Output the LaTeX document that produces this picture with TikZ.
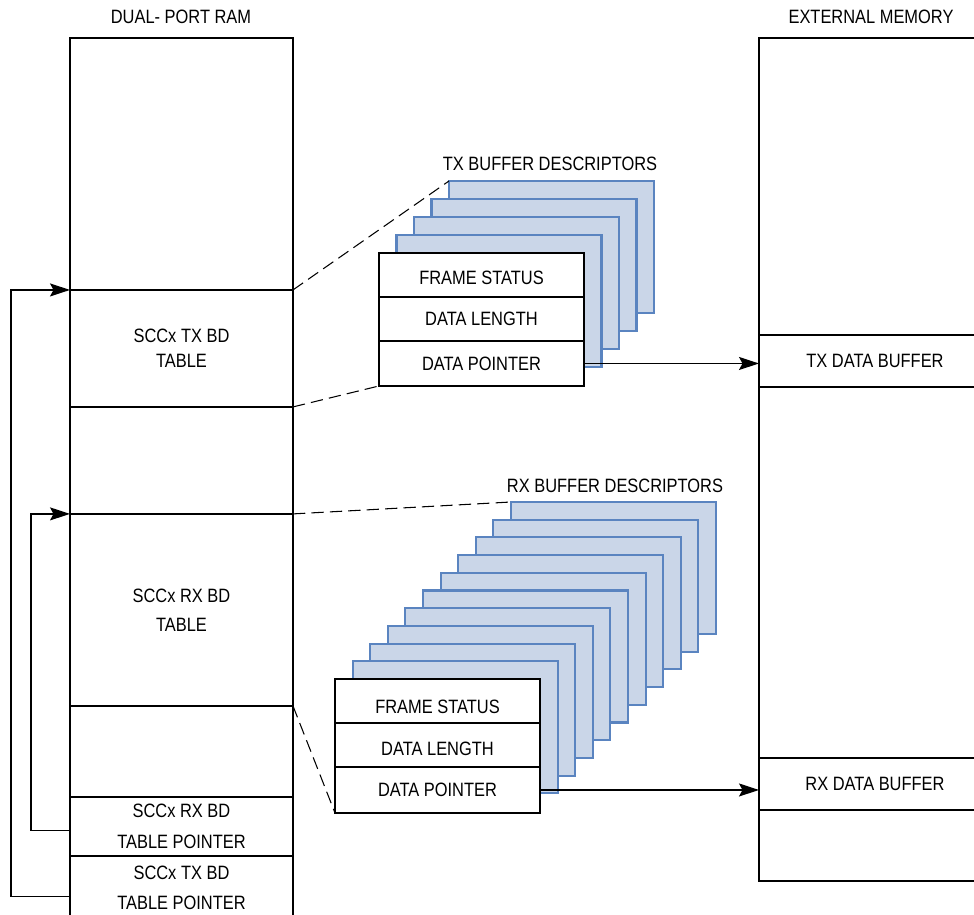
\documentclass[tikz,border=0pt]{standalone}
\usepackage{fontspec}
\setmainfont{Liberation Sans}[FakeStretch=0.85]
\usepackage{tikz}
\usetikzlibrary{arrows.meta,positioning}
\definecolor{bdfill}{HTML}{CAD6E8}
\definecolor{bdedge}{HTML}{5A84C0}
\tikzset{%
  ramcell/.style={draw,line width=1pt,inner sep=0pt,outer sep=0pt,align=center,minimum width=4.46cm},
  extcell/.style={draw,line width=1pt,inner sep=0pt,outer sep=0pt,align=center,minimum width=4.64cm},
  link/.style={-{Stealth[length=4mm,width=2.6mm,inset=0.7mm]}, line width=0.7pt}%
}

\begin{document}
\begin{tikzpicture}[
    x=0.02cm, y=-0.02cm,
    font=\fontsize{11}{14.5}\selectfont,
    bdrow/.style={
        draw,
        line width=1pt,
        fill=white,
        inner sep=0pt,
        outer sep=0pt,
        minimum width=4.1cm,
        minimum height=0.88cm
    },
    bdcard/.style={
        draw=bdedge,
        fill=bdfill,
        line width=1.2pt,
        inner sep=0pt,
        outer sep=0pt,
        minimum width=4.1cm,
        minimum height=2.64cm,
        anchor=north west
    },
    dashline/.style={line width=0.6pt, dash pattern=on 7pt off 3.5pt}
]
\useasboundingbox (0,0) rectangle (974,915);

% Titles
\node (ramlabel) at (181,17) {DUAL- PORT RAM};
\node (extlabel) at (871,17) {EXTERNAL MEMORY};

% Dual-port RAM map
\node[ramcell, minimum height=5.04cm, anchor=north west] (ram0) at (70,38) {};
\node[ramcell, minimum height=2.34cm, below=0pt of ram0] (txtbl) {SCCx TX BD\\TABLE};
\node[ramcell, minimum height=2.14cm, below=0pt of txtbl] (ram2) {};
\node[ramcell, minimum height=3.84cm, below=0pt of ram2] (rxtbl) {SCCx RX BD\\[2pt]TABLE};
\node[ramcell, minimum height=1.82cm, below=0pt of rxtbl] (ram4) {};
\node[ramcell, minimum height=1.18cm, below=0pt of ram4] (rxptr) {SCCx RX BD\\[3pt]TABLE POINTER};
\node[ramcell, minimum height=1.28cm, below=0pt of rxptr] (txptr) {SCCx TX BD\\[3pt]TABLE POINTER};

% External memory map
\node[extcell, minimum height=5.94cm, anchor=north west] (ext0) at (759,38) {};
\node[extcell, minimum height=1.04cm, below=0pt of ext0] (txbuf) {TX DATA BUFFER};
\node[extcell, minimum height=7.42cm, below=0pt of txbuf] (ext2) {};
\node[extcell, minimum height=1.04cm, below=0pt of ext2] (rxbuf) {RX DATA BUFFER};
\node[extcell, minimum height=1.42cm, below=0pt of rxbuf] (ext4) {};

% TX buffer descriptors
\node (txlabel) at (550,164) {TX BUFFER DESCRIPTORS};
\foreach \i in {4,3,2,1}
  \node[bdcard] (txcard\i) at (379+17.5*\i,253-18*\i) {};
\node[bdrow, anchor=north west, text height=0.38cm] (txfs) at (379,253) {FRAME STATUS};
\node[bdrow, below=0pt of txfs] (txdl) {DATA LENGTH};
\node[bdrow, below=0pt of txdl, minimum height=0.9cm] (txdp) {DATA POINTER};

\draw[dashline] (txtbl.north east) -- (txcard4.north west);
\draw[dashline] (txtbl.south east) -- (txdp.south west);
\draw[link] (txdp.east) -- (txdp.east -| txbuf.west);

% RX buffer descriptors
\node (rxlabel) at (615,486) {RX BUFFER DESCRIPTORS};
\foreach \i in {10,9,...,1}
  \node[bdcard] (rxcard\i) at (335+17.6*\i,679-17.7*\i) {};
\node[bdrow, anchor=north west, text height=0.5cm] (rxfs) at (335,679) {FRAME STATUS};
\node[bdrow, below=0pt of rxfs, text height=0.44cm] (rxdl) {DATA LENGTH};
\node[bdrow, below=0pt of rxdl, minimum height=0.92cm] (rxdp) {DATA POINTER};

\draw[dashline] (rxtbl.north east) -- (rxcard10.north west);
\draw[dashline] (rxtbl.south east) -- (rxdp.south west);
\draw[link] (rxdp.east) -- (rxdp.east -| rxbuf.west);

% table pointers
\draw[link] ([yshift=-0.18cm]txptr.west) -- ++(-59,0) |- (txtbl.north west);
\draw[link] ([yshift=-0.09cm]rxptr.west) -- ++(-39,0) |- (rxtbl.north west);

\end{tikzpicture}
\end{document}
